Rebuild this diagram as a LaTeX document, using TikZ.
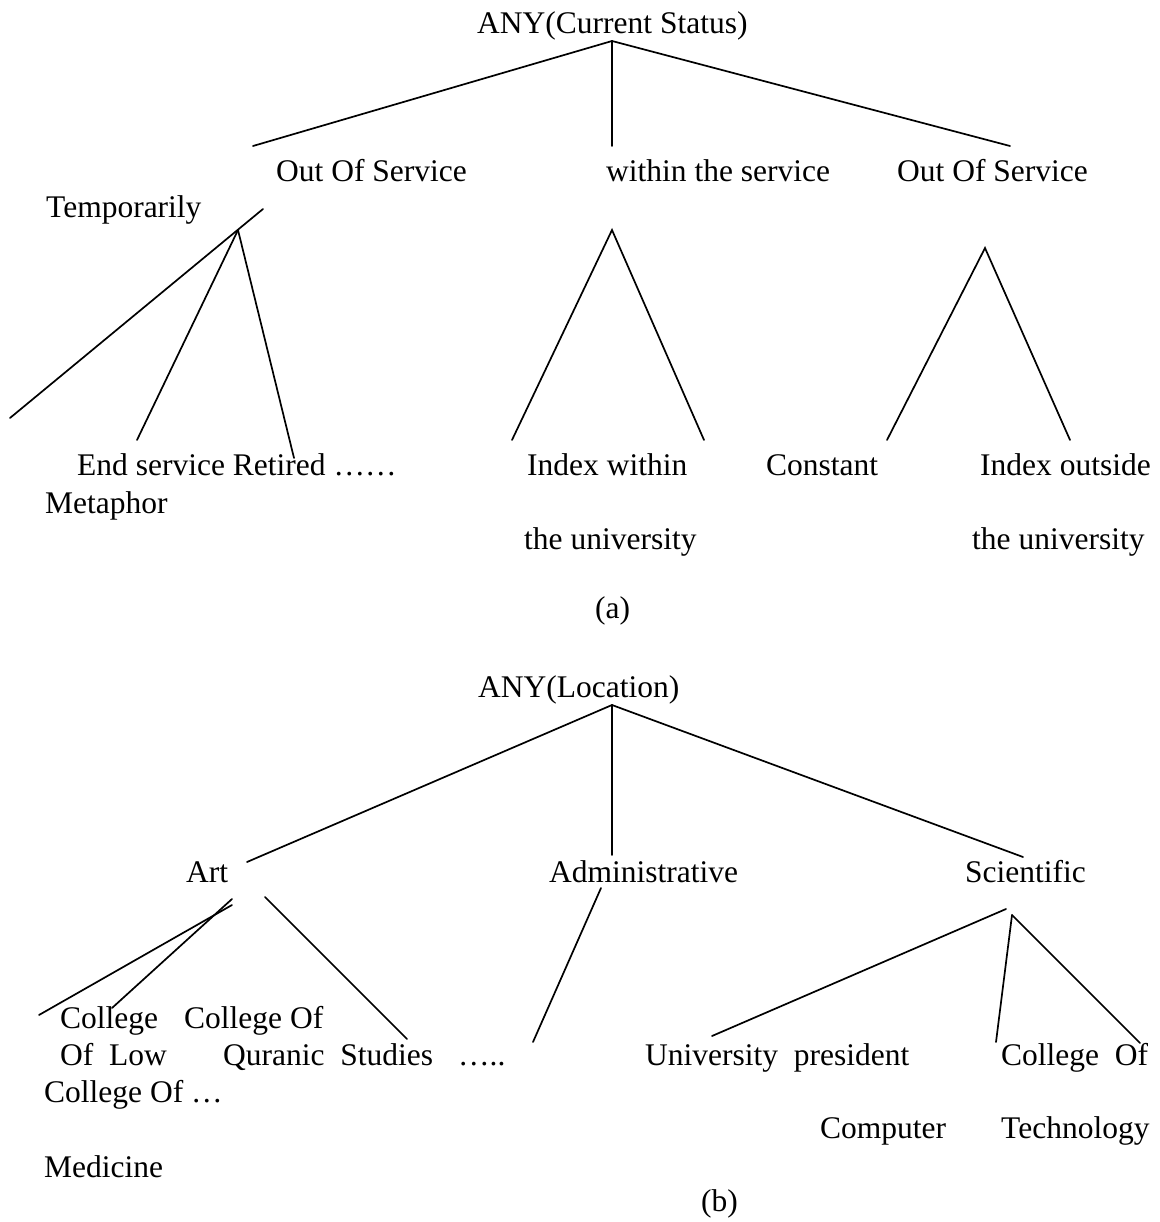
\documentclass[tikz,border=0pt]{standalone}
\usepackage{fontspec}
\setmainfont{Liberation Serif}
\begin{document}
\begin{tikzpicture}[x=1pt,y=-1pt,
  lbl/.style={anchor=base west, inner sep=0pt, font=\fontsize{31.5}{36}\selectfont},
  link/.style={line width=1.7pt, line cap=round}]
\useasboundingbox[fill=white] (0,0) rectangle (1159,1222);

% ---------- (a) ----------
\node[lbl] (rootA) at (477,34) {ANY(Current Status)};
\node[lbl] (oos1) at (276,182) {Out Of Service};
\node[lbl] (wts) at (606,182) {within the service};
\node[lbl] (oos2) at (897,182) {Out Of Service};
\node[lbl] (temp) at (46,218) {Temporarily};
\node[lbl] (endret) at (77,475) {End service Retired ……};
\node[lbl] (meta) at (45,513) {Metaphor};
\node[lbl] (idxw) at (527,475) {Index within};
\node[lbl] (univ1) at (524,549) {the university};
\node[lbl] (const) at (766,475) {Constant};
\node[lbl] (idxo) at (980,475) {Index outside};
\node[lbl] (univ2) at (972,549) {the university};
\node[lbl] (capA) at (595,618) {(a)};

\coordinate (ra) at (612,41);
\coordinate (ra1) at (253,146);
\coordinate (ra2) at (612,146);
\coordinate (ra3) at (1010,146);
\draw[link] (ra) -- (ra1);
\draw[link] (ra) -- (ra2);
\draw[link] (ra) -- (ra3);

\coordinate (t1) at (263,209);
\coordinate (t2) at (10,418);
\coordinate (tb) at (238,230);
\coordinate (tend) at (137,440);
\coordinate (tret) at (294,458);
\draw[link] (t1) -- (t2);
\draw[link] (tb) -- (tend);
\draw[link] (tb) -- (tret);

\coordinate (wa) at (612,230);
\coordinate (wl) at (512,440);
\coordinate (wr) at (704,440);
\draw[link] (wl) -- (wa) -- (wr);

\coordinate (oa) at (985,248);
\coordinate (ol) at (887,440);
\coordinate (or) at (1070,440);
\draw[link] (ol) -- (oa) -- (or);

% ---------- (b) ----------
\node[lbl] (rootB) at (478,697) {ANY(Location)};
\node[lbl] (art) at (186,882) {Art};
\node[lbl] (adm) at (549,882) {Administrative};
\node[lbl] (sci) at (965,882) {Scientific};
\node[lbl] (col1) at (60,1028) {College};
\node[lbl] (col2) at (184,1028) {College Of};
\node[lbl] (oflow) at (60,1065) {Of\ \ Low};
\node[lbl] (quran) at (223,1065) {Quranic\ \ Studies};
\node[lbl] (dots) at (458,1065) {…..};
\node[lbl] (col3) at (44,1102) {College Of …};
\node[lbl] (med) at (44,1177) {Medicine};
\node[lbl] (upres) at (645,1065) {University\ \ president};
\node[lbl] (col4) at (1001,1065) {College\ \ Of};
\node[lbl] (comp) at (820,1138) {Computer};
\node[lbl] (tech) at (1001,1138) {Technology};
\node[lbl] (capB) at (701,1211) {(b)};

\coordinate (rb) at (612,705);
\coordinate (rb1) at (247,862);
\coordinate (rb2) at (612,855);
\coordinate (rb3) at (1023,857);
\draw[link] (rb) -- (rb1);
\draw[link] (rb) -- (rb2);
\draw[link] (rb) -- (rb3);

\coordinate (a1s) at (232,899);
\coordinate (a1e) at (112,1008);
\coordinate (a2s) at (232,905);
\coordinate (a2e) at (39,1015);
\coordinate (a3s) at (265,897);
\coordinate (a3e) at (407,1039);
\draw[link] (a1s) -- (a1e);
\draw[link] (a2s) -- (a2e);
\draw[link] (a3s) -- (a3e);

\coordinate (d1) at (601,888);
\coordinate (d2) at (533,1042);
\draw[link] (d1) -- (d2);

\coordinate (s1) at (1006,909);
\coordinate (s1e) at (712,1036);
\coordinate (s2) at (1012,915);
\coordinate (s2e) at (996,1042);
\coordinate (s3e) at (1140,1043);
\draw[link] (s1) -- (s1e);
\draw[link] (s2) -- (s2e);
\draw[link] (s2) -- (s3e);
\end{tikzpicture}
\end{document}
